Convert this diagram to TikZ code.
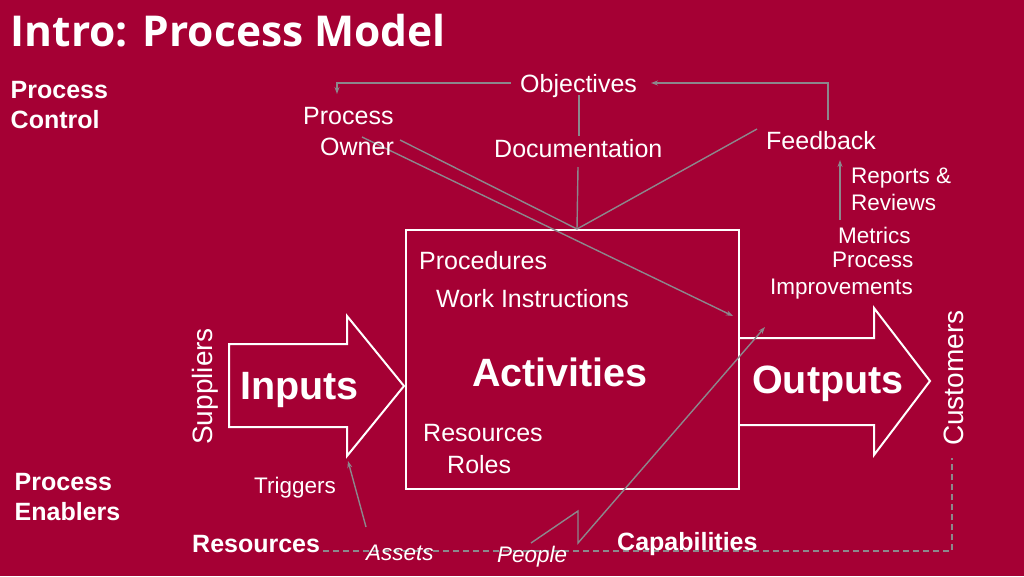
\documentclass[tikz,border=0pt]{standalone}
\usepackage{fontspec}
\setmainfont{Liberation Sans}
\newfontfamily\titlefont{Open Sans}
\usetikzlibrary{arrows.meta}
\definecolor{bgred}{RGB}{165,0,52}
\definecolor{lgray}{RGB}{140,135,140}
\newcommand\szM{\fontsize{25pt}{30pt}\selectfont}
\newcommand\szS{\fontsize{22.5pt}{27pt}\selectfont}
\newcommand\szL{\fontsize{39.5pt}{46pt}\selectfont}
\newcommand\szR{\fontsize{28pt}{34pt}\selectfont}
\begin{document}
\begin{tikzpicture}[x=1pt,y=-1pt,
  txt/.style={anchor=base west, inner sep=0pt, text=white},
  mtxt/.style={txt, font=\szM},
  stxt/.style={txt, font=\szS},
  btxt/.style={txt, font=\szM\bfseries},
  ltxt/.style={txt, font=\szL\bfseries},
  rtxt/.style={txt, font=\szR, rotate=90},
  itxt/.style={txt, font=\szS\itshape},
  shapeline/.style={draw=white, line width=2pt, line join=miter},
  conn/.style={draw=lgray, line width=1.4pt},
  carrow/.style={conn, -{Stealth[length=7pt,width=5pt]}},
  dline/.style={conn, dash pattern=on 6pt off 4pt}]
\fill[bgred] (0,0) rectangle (1024,576);
\useasboundingbox (0,0) rectangle (1024,576);

% connector end points
\coordinate (objL) at (511,83);
\coordinate (ownT) at (337,94);
\coordinate (fbT) at (828,120);
\coordinate (objR) at (651,83);
\coordinate (objB) at (579,95);
\coordinate (docT) at (579,136);
\coordinate (docB) at (578,167);
\coordinate (boxT) at (577,229);
\coordinate (fbL) at (757,129);
\coordinate (ownR) at (400,140);
\coordinate (ownM) at (362,137);
\coordinate (impIn) at (733,316);
\coordinate (metT) at (840,220);
\coordinate (fbB) at (840,160);
\coordinate (peoT) at (531,543);
\coordinate (zzA) at (578,511);
\coordinate (zzB) at (578,543);
\coordinate (outIn) at (765,327);
\coordinate (assT) at (366,527);
\coordinate (inpB) at (348,461);
\coordinate (resR) at (323,551);
\coordinate (cusB) at (952,458);

% dashed enabler line
\draw[dline] (resR) -| (cusB);

% shapes
\draw[shapeline] (406,230) rectangle (739,489);
\draw[shapeline] (229,344) -- (347,344) -- (347,316) -- (404,386) -- (347,456) -- (347,427) -- (229,427) -- cycle;
\draw[shapeline] (739,338) -- (874,338) -- (874,308) -- (930,381) -- (874,455) -- (874,425) -- (739,425);

% connectors
\draw[carrow] (objL) -| (ownT);
\draw[carrow] (fbT) |- (objR);
\draw[conn] (objB) -- (docT);
\draw[conn] (docB) -- (boxT);
\draw[conn] (fbL) -- (boxT);
\draw[conn] (ownR) -- (boxT);
\draw[carrow] (ownM) -- (impIn);
\draw[carrow] (metT) -- (fbB);
\draw[carrow] (peoT) -- (zzA) -- (zzB) -- (outIn);
\draw[carrow] (assT) -- (inpB);

% texts
\node[txt, font=\titlefont\bfseries\fontsize{42.5pt}{50pt}\selectfont] (title) at (10.5,46.5) {Intro: Process Model};
\node[btxt] (pc1) at (10.5,98.5) {Process};
\node[btxt] (pc2) at (10.5,128.5) {Control};
\node[btxt] (pe1) at (14.5,490) {Process};
\node[btxt] (pe2) at (14.5,520.5) {Enablers};

\node[mtxt] (obj) at (520,92) {Objectives};
\node[mtxt] (own1) at (303,124.5) {Process};
\node[mtxt] (own2) at (320,155) {Owner};
\node[mtxt] (doc) at (494,157.5) {Documentation};
\node[mtxt] (fb) at (766,149) {Feedback};
\node[stxt] (rr1) at (851,183.5) {Reports \&};
\node[stxt] (rr2) at (851,210.5) {Reviews};
\node[stxt] (met) at (838,243.5) {Metrics};
\node[stxt] (pi1) at (832,267.5) {Process};
\node[stxt] (pi2) at (770,294.5) {Improvements};

\node[mtxt] (proc) at (419,269) {Procedures};
\node[mtxt] (wi) at (436,307.5) {Work Instructions};
\node[ltxt] (act) at (472,386) {Activities};
\node[mtxt] (resin) at (423,441) {Resources};
\node[mtxt] (roles) at (447,473) {Roles};

\node[ltxt] (inp) at (240,399) {Inputs};
\node[ltxt] (outp) at (752,393) {Outputs};
\node[rtxt] (sup) at (212,445) {Suppliers};
\node[rtxt] (cus) at (963,446) {Customers};

\node[stxt] (trig) at (254,493.5) {Triggers};
\node[btxt] (res) at (192,552.5) {Resources};
\node[itxt] (ass) at (366,560) {Assets};
\node[itxt] (peo) at (497,562.5) {People};
\node[btxt] (cap) at (617,550) {Capabilities};
\end{tikzpicture}
\end{document}
